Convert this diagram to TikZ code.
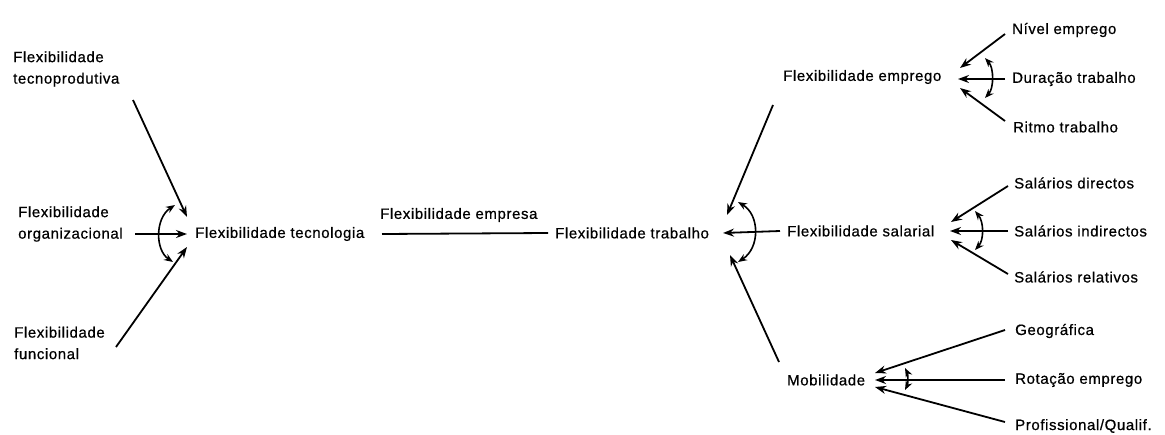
\documentclass[tikz,border=0pt]{standalone}
\usepackage{fontspec}
\setmainfont{Liberation Sans}[LetterSpace=4.0,FakeBold=0.6]
\usetikzlibrary{arrows.meta,calc}
\begin{document}
\begin{tikzpicture}[x=1pt,y=-1pt,
  lbl/.style={anchor=west,inner sep=0pt,align=left,font=\fontsize{15}{21.5}\selectfont},
  arr/.style={line width=1.8pt,-{Stealth[length=11pt,width=8pt]}},
  plain/.style={line width=1.8pt},
  darr/.style={line width=1.6pt,{Stealth[length=9pt,width=7pt]}-{Stealth[length=9pt,width=7pt]}}]
\useasboundingbox (0,0) rectangle (1165,434);
% left
\node[lbl] (tp) at (13,69) {Flexibilidade\\tecnoprodutiva};
\node[lbl] (org) at (18,224) {Flexibilidade\\organizacional};
\node[lbl] (fun) at (14,343) {Flexibilidade\\funcional};
\node[lbl] (tec) at (195,234) {Flexibilidade tecnologia};
\node[lbl] (emp) at (380,215) {Flexibilidade empresa};
\node[lbl] (trab) at (555,233) {Flexibilidade trabalho};
% right
\node[lbl] (femp) at (783,77) {Flexibilidade emprego};
\node[lbl] (niv) at (1012,30) {Nível emprego};
\node[lbl] (dur) at (1012,79) {Duração trabalho};
\node[lbl] (rit) at (1013,127) {Ritmo trabalho};
\node[lbl] (sal) at (787,231) {Flexibilidade salarial};
\node[lbl] (sdir) at (1014,183) {Salários directos};
\node[lbl] (sind) at (1014,231) {Salários indirectos};
\node[lbl] (srel) at (1014,277) {Salários relativos};
\node[lbl] (mob) at (787,380) {Mobilidade};
\node[lbl] (geo) at (1015,331) {Geográfica};
\node[lbl] (rot) at (1015,380) {Rotação emprego};
\node[lbl] (prof) at (1015,426) {Profissional/Qualif.};
% left arrows
\draw[arr] ($(tp.west)+(120,31)$) -- ($(tec.west)+(-8,-17)$);
\draw[arr] ($(org.west)+(117,10)$) -- ($(tec.west)+(-8,0)$);
\draw[arr] ($(fun.west)+(102,4)$) -- ($(tec.west)+(-8,13)$);
\draw[darr] ($(tec.west)+(-20,-29)$) .. controls ($(tec.west)+(-40,-16)$) and ($(tec.west)+(-40,16)$) .. ($(tec.west)+(-22,28)$);
% middle
\draw[plain] ($(tec.west)+(187,0)$) -- ($(trab.west)+(-7,0)$);
% into trabalho
\draw[arr] ($(femp.west)+(-10,28)$) -- ($(trab.west)+(172,-18)$);
\draw[arr] ($(sal.west)+(-7,0)$) -- ($(trab.west)+(168,0)$);
\draw[arr] ($(mob.west)+(-8,-18)$) -- ($(trab.west)+(175,22)$);
\draw[darr] ($(trab.west)+(183,-31)$) .. controls ($(trab.west)+(205,-18)$) and ($(trab.west)+(205,15)$) .. ($(trab.west)+(183,29)$);
% emprego
\draw[arr] ($(niv.west)+(-7,4)$) -- ($(femp.west)+(177,-9)$);
\draw[arr] ($(dur.west)+(-7,0)$) -- ($(femp.west)+(175,2)$);
\draw[arr] ($(rit.west)+(-8,-6)$) -- ($(femp.west)+(177,11)$);
\draw[darr] ($(femp.west)+(202,-19)$) .. controls ($(femp.west)+(211,-9)$) and ($(femp.west)+(211,11)$) .. ($(femp.west)+(202,21)$);
% salarial
\draw[arr] ($(sdir.west)+(-6,3)$) -- ($(sal.west)+(164,-9)$);
\draw[arr] ($(sind.west)+(-6,0)$) -- ($(sal.west)+(163,0)$);
\draw[arr] ($(srel.west)+(-6,-3)$) -- ($(sal.west)+(164,9)$);
\draw[darr] ($(sal.west)+(188,-20)$) .. controls ($(sal.west)+(197,-9)$) and ($(sal.west)+(197,9)$) .. ($(sal.west)+(188,19)$);
% mobilidade
\draw[arr] ($(geo.west)+(-10,-1)$) -- ($(mob.west)+(88,-7)$);
\draw[arr] ($(rot.west)+(-10,0)$) -- ($(mob.west)+(88,0)$);
\draw[arr] ($(prof.west)+(-10,-4)$) -- ($(mob.west)+(88,7)$);
\draw[darr] ($(mob.west)+(118,-12)$) .. controls ($(mob.west)+(121,-6)$) and ($(mob.west)+(121,4)$) .. ($(mob.west)+(118,10)$);
\end{tikzpicture}
\end{document}
